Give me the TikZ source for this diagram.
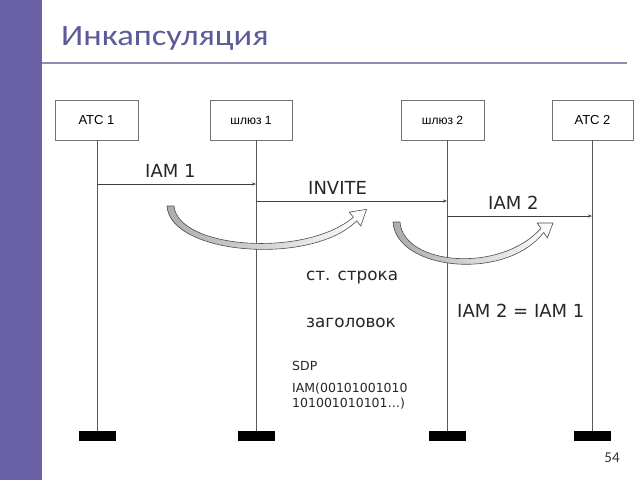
\documentclass[tikz,border=0pt]{standalone}
\usepackage{fontspec}
\usepackage{graphicx}
\setmainfont{DejaVu Sans}
\newfontfamily\titlefont{Carlito}
\newfontfamily\boxfont{Liberation Sans}
\usetikzlibrary{arrows.meta}
\definecolor{barpurple}{HTML}{6A60A6}
\definecolor{titlecol}{HTML}{5E5A97}
\definecolor{rulecol}{HTML}{8F8CB2}
\begin{document}
\begin{tikzpicture}[x=1pt,y=-1pt,
  entity/.style={draw=black!55, line width=0.8pt, fill=white, minimum height=40pt, inner sep=0pt, font=\boxfont\fontsize{13}{15}\selectfont},
  gwfont/.style={font=\boxfont\fontsize{12}{14}\selectfont},
  lifeline/.style={draw=black!65, line width=0.8pt},
  endbar/.style={fill=black, minimum width=37pt, minimum height=10pt, inner sep=0pt},
  msg/.style={draw=black!75, line width=0.7pt, -{Stealth[length=4pt,width=3pt]}},
  lbl/.style={font=\fontsize{18}{20}\selectfont, inner sep=0pt, anchor=base west, text=black!85},
  cyrlbl/.style={lbl, font=\fontsize{16.8}{20}\selectfont},
  smalltxt/.style={font=\fontsize{12.5}{15}\selectfont, inner sep=0pt, anchor=base west, align=left, text=black!85},
  bendarrow/.style={draw=black!70, line width=0.6pt, left color=gray!65, right color=white}
]
\useasboundingbox (0,0) rectangle (640,480);
% left bar and title
\fill[barpurple] (0,0) rectangle (42,480);
\node[font=\titlefont\fontsize{29.5}{32}\selectfont, text=titlecol, anchor=base west, inner sep=0pt] (title) at (61,45) {\scalebox{1.17}[1]{Инкапсуляция}};
\draw[rulecol, line width=2pt] (42,63) -- (627,63);

% entities
\node[entity, minimum width=83pt] (atc1) at (96.5,120) {АТС 1};
\node[entity, gwfont, minimum width=82pt] (gw1) at (251,120) {шлюз 1};
\node[entity, gwfont, minimum width=83pt] (gw2) at (442.5,120) {шлюз 2};
\node[entity, minimum width=81pt] (atc2) at (592.5,120) {АТС 2};

% end bars
\node[endbar] (b1) at (97,436) {};
\node[endbar] (b2) at (256,436) {};
\node[endbar] (b3) at (447,436) {};
\node[endbar] (b4) at (592,436) {};

% lifelines
\draw[lifeline] (b1.north) -- (b1.north |- atc1.south);
\draw[lifeline] (b2.north) -- (b2.north |- gw1.south);
\draw[lifeline] (b3.north) -- (b3.north |- gw2.south);
\draw[lifeline] (b4.north) -- (b4.north |- atc2.south);

% messages
\coordinate (m1a) at (97,184);
\coordinate (m2a) at (256,201);
\coordinate (m3a) at (447,216);
\draw[msg] (m1a) -- (m1a -| b2);
\draw[msg] (m2a) -- (m2a -| b3);
\draw[msg] (m3a) -- (m3a -| b4);
\node[lbl] (l1) at (145,177) {IAM 1};
\node[lbl] (l2) at (308,194) {INVITE};
\node[lbl] (l3) at (488,209) {IAM 2};

% curved block arrows
\path[bendarrow] (167,206) .. controls (170,255) and (312,266) .. (356.6,220.9)
  -- (360.8,225.9) -- (366.5,209.4) -- (349.2,212.1) -- (353.4,217.1)
  .. controls (306,258) and (178,249) .. (174,206) -- cycle;
\path[bendarrow] (393,222) .. controls (396,270) and (505,282) .. (543.7,232.5)
  -- (547.4,237.8) -- (553,223) -- (537.2,223) -- (540.9,228.4)
  .. controls (500,274) and (403,265) .. (400,222) -- cycle;

% texts
\node[cyrlbl] (t1) at (306,280) {ст. строка};
\node[cyrlbl] (t2) at (306,327) {заголовок};
\node[lbl] (t3) at (457,317) {IAM 2 = IAM 1};
\node[smalltxt] (t4) at (292,370) {SDP};
\node[smalltxt] (t5) at (292,407) {IAM(00101001010\\101001010101…)};

\node[font=\titlefont\fontsize{15}{17}\selectfont, inner sep=0pt, text=black!80] (pg) at (612,458) {54};
\end{tikzpicture}
\end{document}
